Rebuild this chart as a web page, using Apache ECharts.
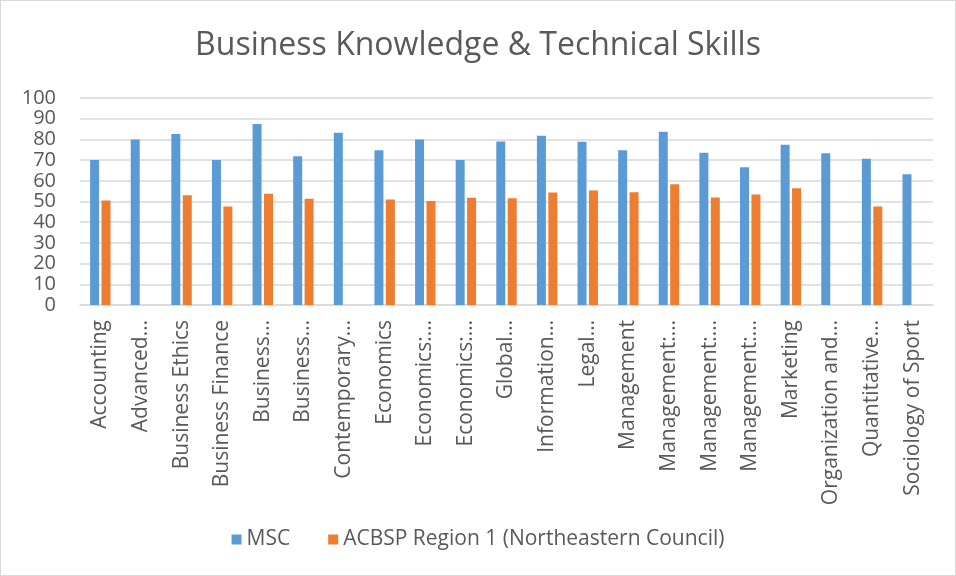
<!DOCTYPE html>
<html><head><meta charset="utf-8">
<script src="https://cdn.jsdelivr.net/npm/echarts@6/dist/echarts.min.js"></script>
<style>html,body{margin:0;padding:0;background:#fff}#c{position:absolute;left:0;top:0;width:954px;height:574px;border:1px solid #d9d9d9}</style>
</head><body><div id="c"></div>
<script>
const categories = ["Accounting","Advanced…","Business Ethics","Business Finance","Business…","Business…","Contemporary…","Economics","Economics:…","Economics:…","Global…","Information…","Legal…","Management","Management:…","Management:…","Management:…","Marketing","Organization and…","Quantitative…","Sociology of Sport"];
const msc = [70, 80, 82.6, 70, 87.5, 71.8, 83.2, 74.8, 80, 70, 79, 81.8, 78.9, 74.8, 83.7, 73.6, 66.6, 77.4, 73.3, 70.6, 63.2];
const acbsp = [50.5, null, 53, 47.6, 53.8, 51.3, null, 51, 50.3, 51.8, 51.6, 54.3, 55.3, 54.5, 58.3, 51.9, 53.4, 56.4, null, 47.6, null];
const yTicks = [0,10,20,30,40,50,60,70,80,90,100];
const seriesNames = ["MSC","ACBSP Region 1 (Northeastern Council)"];
const FONT = "Open Sans";
const TXT = "#595959";
const chart = echarts.init(document.getElementById('c'), null, {renderer:'canvas'});
chart.setOption({
  animation:false,
  textStyle:{fontFamily:FONT},
  title:{text:"Business Knowledge & Technical Skills",left:'center',top:24,textStyle:{fontFamily:FONT,fontSize:32,fontWeight:'normal',color:TXT}},
  legend:{bottom:20,left:'center',itemWidth:10,itemHeight:10,itemGap:38,icon:'rect',
    textStyle:{fontFamily:FONT,fontSize:21,color:TXT},data:seriesNames},
  grid:{left:79,right:22,top:97,bottom:270,containLabel:false},
  xAxis:{type:'category',data:categories,
    axisLine:{lineStyle:{color:'#d9d9d9',width:1.5}},axisTick:{show:false},
    axisLabel:{rotate:90,interval:0,fontFamily:FONT,fontSize:21,color:TXT,margin:15}},
  yAxis:{type:'value',min:yTicks[0],max:yTicks[yTicks.length-1],interval:10,
    axisLine:{show:false},axisTick:{show:false},
    axisLabel:{fontFamily:FONT,fontSize:20,color:TXT,margin:24},
    splitLine:{lineStyle:{color:'#d9d9d9',width:1.5}}},
  series:[
    {name:seriesNames[0],type:'bar',data:msc,barWidth:9,barGap:'27%',itemStyle:{color:'#5b9bd5'}},
    {name:seriesNames[1],type:'bar',data:acbsp,barWidth:9,barGap:'27%',itemStyle:{color:'#ed7d31'}}
  ]
});
</script></body></html>
